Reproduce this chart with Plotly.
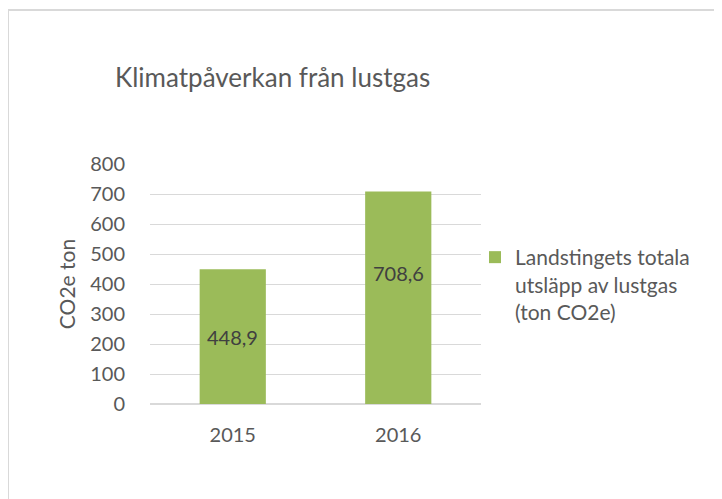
import plotly.graph_objects as go

years = ["2015", "2016"]
values = [448.9, 708.6]
value_labels = ["448,9", "708,6"]
label_y = [224, 437]
y_ticks = [0, 100, 200, 300, 400, 500, 600, 700, 800]
series_name = "Landstingets totala<br>utsläpp av lustgas<br>(ton CO2e)"
title_text = "Klimatpåverkan från lustgas"
y_title = "CO2e ton"

FONT = "Lato, Calibri, Carlito, sans-serif"
GREY = "#595959"
GRID = "#d9d9d9"

OFF = 8  # page body margin
W, H = 722 - OFF, 499 - OFF
L = 150 - OFF
T = 164 - OFF
R = W - (481 - OFF)
B = H - (404 - OFF)
pw, ph = W - L - R, H - T - B

def fx(p):  # reference pixel x -> paper x
    return (p - OFF - L) / pw

def fy(p):  # reference pixel y -> paper y
    return (H - B - (p - OFF)) / ph

fig = go.Figure()
fig.add_trace(go.Bar(
    x=years, y=values, name=series_name,
    marker=dict(color="#9BBB59", line=dict(width=0)),
    showlegend=True,
))

for i, (y, t) in enumerate(zip(label_y, value_labels)):
    fig.add_annotation(x=i, y=y, xref="x", yref="y", text=t, showarrow=False,
                       font=dict(family=FONT, size=20, color="#404040"))

# outer chart border (top and left edges visible)
fig.add_shape(type="line", xref="paper", yref="paper",
              x0=fx(8), x1=fx(722), y0=fy(10), y1=fy(10),
              line=dict(color=GRID, width=2))
fig.add_shape(type="line", xref="paper", yref="paper",
              x0=fx(8), x1=fx(8), y0=fy(10), y1=fy(499),
              line=dict(color=GRID, width=2))

fig.update_layout(
    width=W, height=H,
    margin=dict(l=L, r=R, t=T, b=B),
    paper_bgcolor="white", plot_bgcolor="white",
    bargap=0.6,
    font=dict(family=FONT, color=GREY),
    title=dict(text=title_text, x=(115 - OFF) / W, xanchor="left", xref="container",
               y=1 - (78 - OFF) / H, yanchor="middle", yref="container",
               font=dict(family=FONT, size=26, color=GREY)),
    legend=dict(x=fx(475), y=fy(237), xanchor="left", yanchor="top",
                font=dict(family=FONT, size=21, color=GREY), valign="top",
                itemwidth=30, bgcolor="rgba(0,0,0,0)"),
)
fig.update_xaxes(type="category", range=[-0.5, 1.5], showgrid=False, showline=False,
                 ticks="outside", ticklen=13, tickcolor="rgba(0,0,0,0)",
                 tickfont=dict(family=FONT, size=20, color=GREY))
fig.update_yaxes(range=[0, 800], tickvals=y_ticks, showgrid=True, gridcolor=GRID, gridwidth=1,
                 zeroline=True, zerolinecolor=GRID, zerolinewidth=2,
                 ticks="outside", ticklen=20, tickcolor="rgba(0,0,0,0)",
                 tickfont=dict(family=FONT, size=20, color=GREY),
                 title=dict(text=y_title, font=dict(family=FONT, size=21, color=GREY), standoff=8))

fig.write_html("out.html")
